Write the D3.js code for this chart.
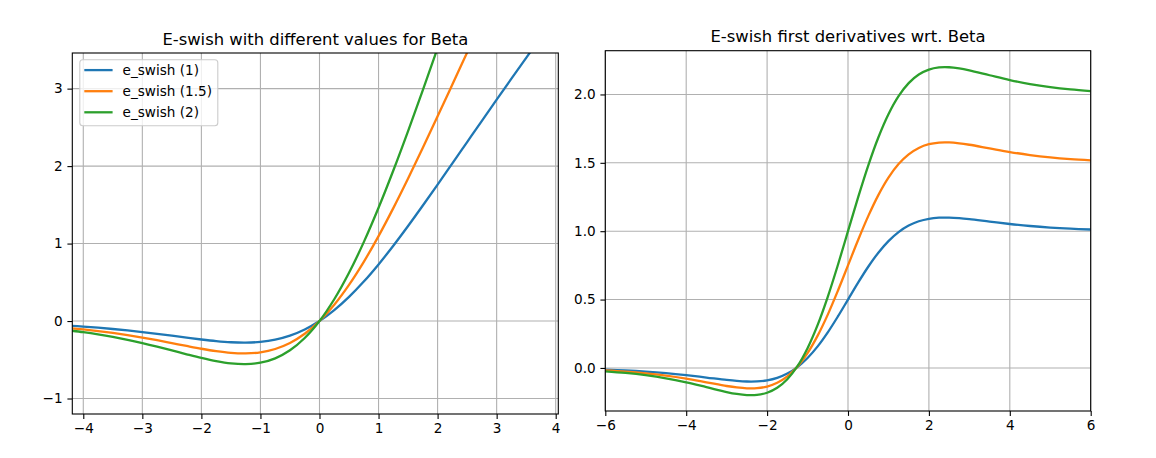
<!DOCTYPE html>
<html><head><meta charset="utf-8">
<script src="https://cdn.jsdelivr.net/npm/d3@7"></script>
<style>body{margin:0;background:#fff}svg{display:block}</style>
</head><body>
<svg id="c" width="1156" height="458"></svg>
<script>
// ---- data ----
const leftX = [-4.25,-4,-3.75,-3.5,-3.25,-3,-2.75,-2.5,-2.25,-2,-1.75,-1.5,-1.25,-1,-0.75,-0.5,-0.25,0,0.25,0.5,0.75,1,1.25,1.5,1.75,2,2.25,2.5,2.75,3,3.25,3.5,3.75];
const eswish1  = [-0.0598,-0.0719,-0.0862,-0.1026,-0.1213,-0.1423,-0.1652,-0.1896,-0.2145,-0.2384,-0.2590,-0.2736,-0.2784,-0.2689,-0.2406,-0.1888,-0.1094,0,0.1406,0.3112,0.5094,0.7311,0.9716,1.2264,1.4910,1.7616,2.0355,2.3103,2.5848,2.8577,3.1287,3.3975,3.6638];
const eswish15 = [-0.0896,-0.1079,-0.1293,-0.1539,-0.1820,-0.2134,-0.2478,-0.2845,-0.3218,-0.3577,-0.3885,-0.4104,-0.4176,-0.4034,-0.3609,-0.2831,-0.1642,0,0.2108,0.4669,0.7641,1.0966,1.4574,1.8396,2.2365,2.6424,3.0533,3.4655,3.8772,4.2866,4.6931,5.0963,5.4957];
const eswish2  = [-0.1195,-0.1439,-0.1724,-0.2052,-0.2426,-0.2846,-0.3304,-0.3793,-0.4291,-0.4768,-0.5180,-0.5472,-0.5568,-0.5379,-0.4812,-0.3775,-0.2189,0,0.2811,0.6225,1.0188,1.4621,1.9433,2.4528,2.9820,3.5232,4.0710,4.6207,5.1696,5.7154,6.2574,6.7950,7.3276];

const rightX = [-6,-5.5,-5,-4.5,-4,-3.5,-3,-2.75,-2.5,-2.25,-2,-1.75,-1.5,-1.25,-1,-0.75,-0.5,-0.25,0,0.25,0.5,0.75,1,1.25,1.5,1.75,2,2.25,2.5,2.75,3,3.5,4,4.5,5,5.5,6];
const deriv1  = [-0.0123,-0.0182,-0.0266,-0.0379,-0.0527,-0.0703,-0.0881,-0.0952,-0.0994,-0.0987,-0.0908,-0.0727,-0.0413,0.0063,0.0723,0.1574,0.2600,0.3763,0.5000,0.6237,0.7400,0.8426,0.9277,0.9937,1.0413,1.0727,1.0908,1.0987,1.0994,1.0952,1.0881,1.0703,1.0527,1.0379,1.0265,1.0182,1.0123];
const deriv15 = [-0.0185,-0.0273,-0.0398,-0.0569,-0.0790,-0.1054,-0.1322,-0.1428,-0.1491,-0.1481,-0.1362,-0.1090,-0.0620,0.0095,0.1085,0.2361,0.3900,0.5645,0.7500,0.9356,1.1100,1.2639,1.3916,1.4906,1.5620,1.6090,1.6362,1.6481,1.6491,1.6428,1.6322,1.6055,1.5790,1.5569,1.5398,1.5273,1.5185];
const deriv2  = [-0.0247,-0.0364,-0.0531,-0.0758,-0.1054,-0.1405,-0.1762,-0.1904,-0.1988,-0.1975,-0.1816,-0.1453,-0.0826,0.0126,0.1446,0.3148,0.5200,0.7526,1.0000,1.2474,1.4800,1.6852,1.8554,1.9874,2.0826,2.1454,2.1816,2.1975,2.1988,2.1904,2.1762,2.1405,2.1054,2.0758,2.0531,2.0364,2.0247];

const seriesLabels = ["e_swish (1)","e_swish (1.5)","e_swish (2)"];
const seriesColors = ["#1f77b4","#ff7f0e","#2ca02c"];
const leftXTicks = [-4,-3,-2,-1,0,1,2,3,4];
const leftYTicks = [-1,0,1,2,3];
const rightXTicks = [-6,-4,-2,0,2,4,6];
const rightYTicks = [0,0.5,1,1.5,2];
const titles = ["E-swish with different values for Beta","E-swish first derivatives wrt. Beta"];

// ---- drawing ----
const svg = d3.select("#c");
const FONT = "DejaVu Sans, sans-serif";

function panel(opts){
  const {x0,x1,y0,y1,xd,yd,xt,yt,xfmt,yfmt,xs,ys,title,id,legend} = opts;
  const x = d3.scaleLinear().domain(xd).range([x0,x1]);
  const y = d3.scaleLinear().domain(yd).range([y1,y0]);
  const g = svg.append("g");
  g.append("clipPath").attr("id",id).append("rect")
    .attr("x",x0).attr("y",y0).attr("width",x1-x0).attr("height",y1-y0);
  // grid
  g.append("g").selectAll("line").data(xt).join("line")
    .attr("x1",d=>x(d)).attr("x2",d=>x(d)).attr("y1",y0).attr("y2",y1)
    .attr("stroke","#b0b0b0").attr("stroke-width",1.1);
  g.append("g").selectAll("line").data(yt).join("line")
    .attr("y1",d=>y(d)).attr("y2",d=>y(d)).attr("x1",x0).attr("x2",x1)
    .attr("stroke","#b0b0b0").attr("stroke-width",1.1);
  // lines
  const line = d3.line().x(d=>x(d[0])).y(d=>y(d[1])).curve(d3.curveCatmullRom.alpha(0.5));
  const lg = g.append("g").attr("clip-path",`url(#${id})`);
  ys.forEach((vals,i)=>{
    lg.append("path").datum(xs.map((v,j)=>[v,vals[j]]))
      .attr("d",line).attr("fill","none").attr("stroke",seriesColors[i])
      .attr("stroke-width",2.3).attr("stroke-linecap","square");
  });
  // axes
  const ax = g.append("g").attr("transform",`translate(0,${y1})`)
    .call(d3.axisBottom(x).tickValues(xt).tickFormat(xfmt).tickSize(4.9).tickPadding(4.8));
  const ay = g.append("g").attr("transform",`translate(${x0},0)`)
    .call(d3.axisLeft(y).tickValues(yt).tickFormat(yfmt).tickSize(4.9).tickPadding(4.8));
  [ax,ay].forEach(a=>{
    a.select(".domain").remove();
    a.selectAll("text").attr("font-family",FONT).attr("font-size","13.6px").attr("fill","#000");
    a.selectAll("line").attr("stroke","#000").attr("stroke-width",1.1);
  });
  // frame
  g.append("rect").attr("x",x0).attr("y",y0).attr("width",x1-x0).attr("height",y1-y0)
    .attr("fill","none").attr("stroke","#000").attr("stroke-width",1.1);
  // title
  g.append("text").attr("x",(x0+x1)/2).attr("y",y0-8.5).attr("text-anchor","middle")
    .attr("font-family",FONT).attr("font-size","16.4px").attr("fill","#000").text(title);
  if(legend){
    const lx = x0+7.5, ly = y0+6.8, lw = 138, lh = 66;
    const leg = g.append("g");
    leg.append("rect").attr("x",lx).attr("y",ly).attr("width",lw).attr("height",lh)
      .attr("rx",3).attr("fill","#fff").attr("fill-opacity",0.8)
      .attr("stroke","#cccccc").attr("stroke-width",1.1);
    seriesLabels.forEach((lab,i)=>{
      const yy = ly+10.3+i*21.1;
      leg.append("line").attr("x1",lx+4.5).attr("x2",lx+32.8).attr("y1",yy).attr("y2",yy)
        .attr("stroke",seriesColors[i]).attr("stroke-width",2.3);
      leg.append("text").attr("x",lx+42.8).attr("y",yy).attr("dy","0.36em")
        .attr("font-family",FONT).attr("font-size","13.6px").attr("fill","#000").text(lab);
    });
  }
}

panel({x0:72.3,x1:558.3,y0:53,y1:414,xd:[-4.186,4.044],yd:[-1.2,3.46],
  xt:leftXTicks,yt:leftYTicks,xfmt:d3.format("d"),yfmt:d3.format("d"),
  xs:leftX,ys:[eswish1,eswish15,eswish2],title:titles[0],id:"clipL",legend:true});
panel({x0:605.3,x1:1090.7,y0:50.7,y1:411,xd:[-6,6],yd:[-0.315,2.32],
  xt:rightXTicks,yt:rightYTicks,xfmt:d3.format("d"),yfmt:d3.format(".1f"),
  xs:rightX,ys:[deriv1,deriv15,deriv2],title:titles[1],id:"clipR",legend:false});
</script>
</body></html>
